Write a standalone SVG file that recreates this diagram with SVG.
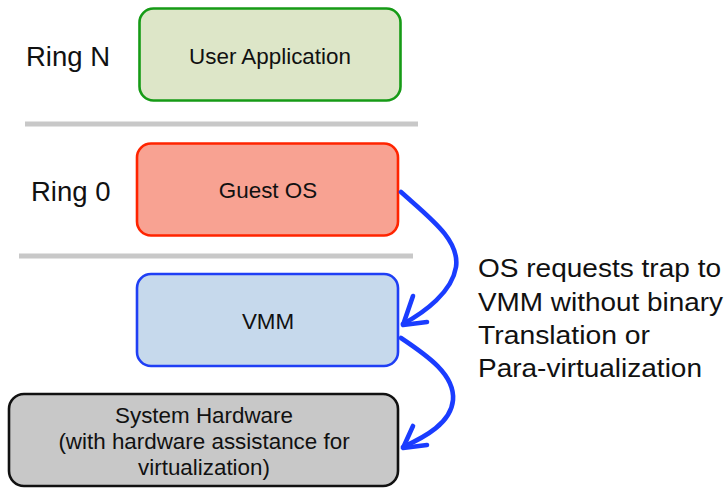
<svg xmlns="http://www.w3.org/2000/svg" width="728" height="489" viewBox="0 0 728 489">
<style>
text{font-family:"Liberation Sans",Arial,sans-serif;fill:#111}
.lbl{font-size:22.4px;text-anchor:middle}
.ring{font-size:27.5px}
.note{font-size:25.5px}
.sep{stroke:#c8c8c8;stroke-width:5}
.box{stroke-width:2.6}
.conn{fill:none;stroke:#1a3cff;stroke-width:4.6;stroke-linecap:round;stroke-linejoin:round}
</style>
<rect width="728" height="489" fill="#fff"/>
<g id="separators">
<line class="sep" x1="25" y1="124" x2="418" y2="124"/>
<line class="sep" x1="19" y1="256" x2="413" y2="256"/>
</g>
<g id="ring-labels">
<text class="ring" x="26" y="66">Ring N</text>
<text class="ring" x="31" y="201">Ring 0</text>
</g>
<g id="user-application">
<rect class="box" x="139.5" y="8.5" width="261" height="92" rx="14" fill="#dde6c8" stroke="#169b16"/>
<text class="lbl" x="270" y="64">User Application</text>
</g>
<g id="guest-os">
<rect class="box" x="137" y="143.5" width="261" height="92" rx="14" fill="#f8a292" stroke="#ff2400"/>
<text class="lbl" x="268" y="198">Guest OS</text>
</g>
<g id="vmm">
<rect class="box" x="137" y="274" width="261" height="92" rx="14" fill="#c6d9ec" stroke="#1f3ff5"/>
<text class="lbl" x="268" y="329">VMM</text>
</g>
<g id="system-hardware">
<rect class="box" x="9" y="394" width="389" height="92" rx="15" fill="#c8c8c8" stroke="#111"/>
<text class="lbl" x="204" y="423">System Hardware</text>
<text class="lbl" x="204" y="449">(with hardware assistance for</text>
<text class="lbl" x="204" y="475">virtualization)</text>
</g>
<g id="connectors">
<path class="conn" d="M401,192 C430,218 460,240 456,267 C452,292 425,312 403,324"/>
<polyline class="conn" points="413,296 403,325 427,322"/>
<path class="conn" d="M401,338 C428,356 455,375 453,400 C451,423 425,437 403,447"/>
<polyline class="conn" points="413,426 403,448 427,445"/>
</g>
<g id="note">
<text class="note" x="478" y="277" textLength="243" lengthAdjust="spacingAndGlyphs">OS requests trap to</text>
<text class="note" x="478" y="311" textLength="245" lengthAdjust="spacingAndGlyphs">VMM without binary</text>
<text class="note" x="478" y="344" textLength="172" lengthAdjust="spacingAndGlyphs">Translation or</text>
<text class="note" x="478" y="377" textLength="224" lengthAdjust="spacingAndGlyphs">Para-virtualization</text>
</g>
</svg>
